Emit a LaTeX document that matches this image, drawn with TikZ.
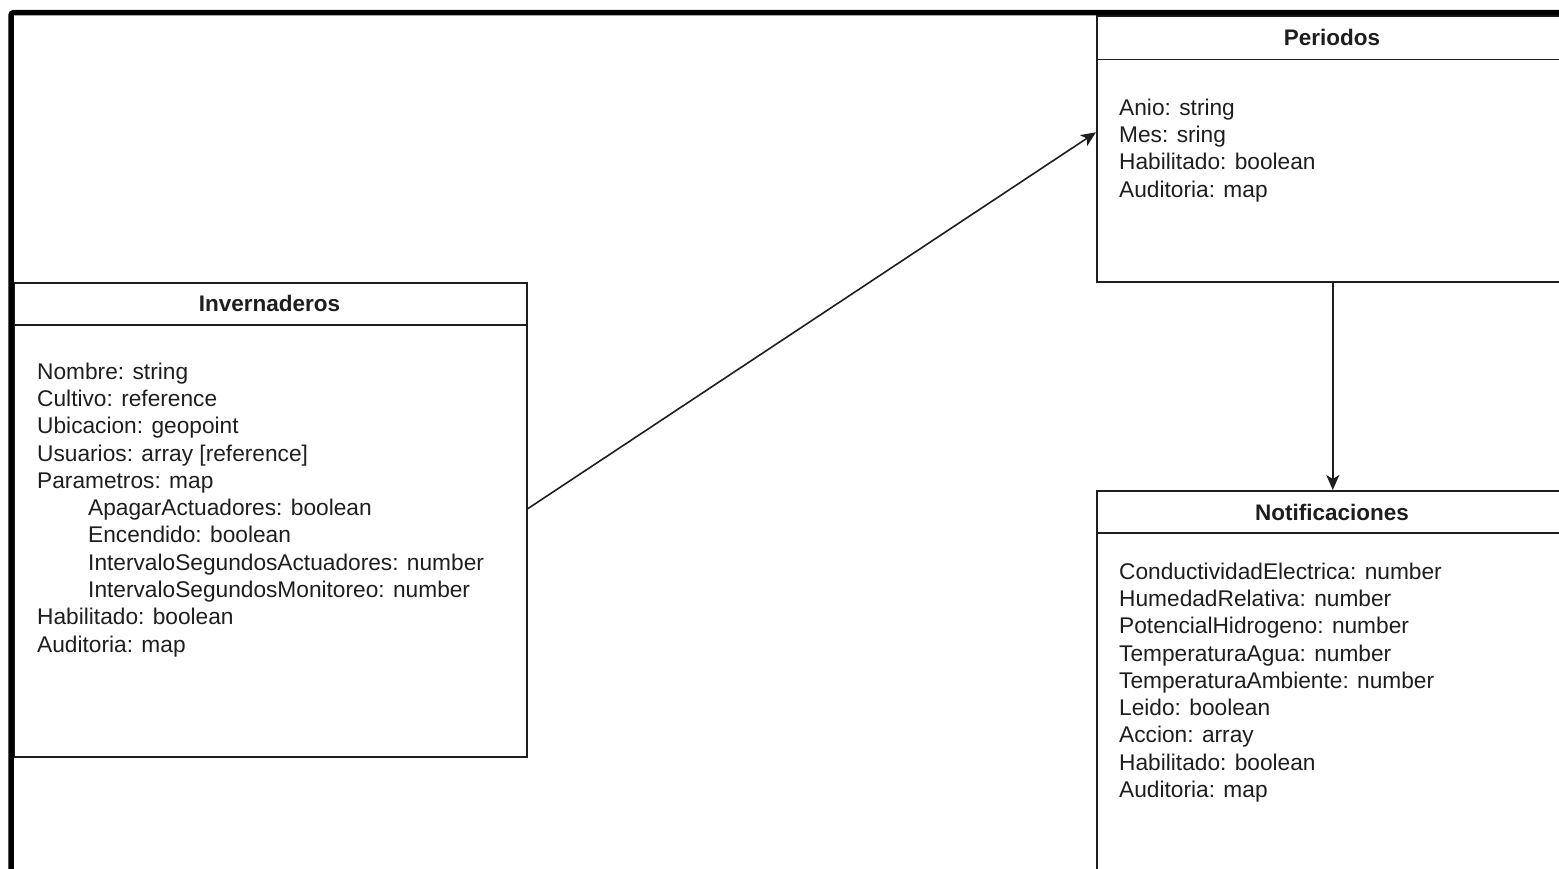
\documentclass[tikz,border=0pt]{standalone}
\usepackage{fontspec}
\setmainfont{Liberation Sans}
\usetikzlibrary{arrows.meta}
\definecolor{ink}{HTML}{1E1E1E}
\begin{document}
\begin{tikzpicture}[x=1pt,y=-1pt,
  umlbox/.style={draw=ink, line width=1.6pt, anchor=north west, inner sep=0pt, minimum width=#1},
  umlbox/.default=472pt,
  hdrline/.style={draw=ink, line width=1.6pt},
  title/.style={font=\fontsize{22.5}{27}\selectfont\bfseries, text=ink, inner sep=0pt},
  attrs/.style={anchor=north west, align=left, inner sep=0pt, text=ink,
    font=\fontsize{22.7}{27.3}\selectfont},
  conn/.style={draw=ink, line width=1.6pt, -{Stealth[length=15pt,width=13pt,inset=4pt]}},
  frame/.style={draw=black, line width=5.5pt, rounded corners=3pt}
]
\useasboundingbox (0,0) rectangle (1559,868);
\clip (0,0) rectangle (1559,868);

% Invernaderos
\node[umlbox=513pt, minimum height=474pt] (inv) at (13,282) {};
\draw[hdrline] (13,325) -- (526,325);
\node[title] (invT) at (269.5,303.5) {Invernaderos};
\node[attrs] (invA) at (37,362.5) {Nombre: string\\
Cultivo: reference\\
Ubicacion: geopoint\\
Usuarios: array [reference]\\
Parametros: map\\
\hspace*{51pt}ApagarActuadores: boolean\\
\hspace*{51pt}Encendido: boolean\\
\hspace*{51pt}IntervaloSegundosActuadores: number\\
\hspace*{51pt}IntervaloSegundosMonitoreo: number\\
Habilitado: boolean\\
Auditoria: map};

% Periodos
\node[umlbox, minimum height=266pt] (per) at (1096,15) {};
\draw[hdrline] (1096,59.5) -- (1568,59.5);
\node[title] (perT) at (1332,37.5) {Periodos};
\node[attrs] (perA) at (1119,98.5) {Anio: string\\
Mes: sring\\
Habilitado: boolean\\
Auditoria: map};

% Notificaciones
\node[umlbox, minimum height=420pt] (not) at (1096,490) {};
\draw[hdrline] (1096,533) -- (1568,533);
\node[title] (notT) at (1332,512) {Notificaciones};
\node[attrs] (notA) at (1119,562.5) {ConductividadElectrica: number\\
HumedadRelativa: number\\
PotencialHidrogeno: number\\
TemperaturaAgua: number\\
TemperaturaAmbiente: number\\
Leido: boolean\\
Accion: array\\
Habilitado: boolean\\
Auditoria: map};

% Relations
\draw[conn] ([yshift=11pt]inv.east) -- ([yshift=16.5pt]per.west);
\draw[conn] (per.south) -- (not.north);

% Outer frame (top and left edges)
\draw[frame] (11,890) -- (11,12.5) -- (1580,12.5);
\end{tikzpicture}
\end{document}
